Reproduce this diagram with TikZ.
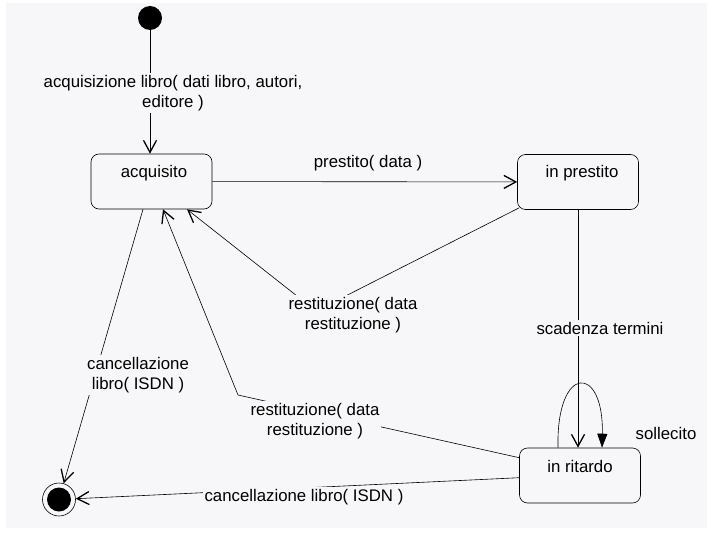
\documentclass[tikz,border=0pt]{standalone}
\usepackage{fontspec}
\setmainfont{Liberation Sans}
\usetikzlibrary{arrows.meta}
\definecolor{bg}{RGB}{247,247,249}
\begin{document}
\begin{tikzpicture}[x=1pt,y=-1pt,
  every node/.style={font=\fontsize{16.8}{20}\selectfont},
  state/.style={draw, rounded corners=8pt, line width=0.6pt, minimum width=121pt, minimum height=55pt, inner sep=0pt},
  txt/.style={inner sep=0pt},
  lbl/.style={fill=bg, inner sep=2pt, align=center},
  edge/.style={line width=0.6pt, -{Straight Barb[length=12pt,width=13pt,line width=1.3pt]}},
  loopedge/.style={line width=0.6pt, -{Triangle[length=14pt,width=10pt]}},
  dot/.style={circle, fill=black, minimum size=24pt, inner sep=0pt}
]
\useasboundingbox (0,0) rectangle (719,540);
\fill[bg] (6,3) rectangle (707,528);

\node[dot] (start) at (150,18) {};
\node[state] (acq) at (151.5,181.5) {};
\node[state] (ip) at (578,182) {};
\node[state] (ir) at (580,475.5) {};
\node[circle, draw, line width=0.6pt, minimum size=33pt, inner sep=0pt] (fin) at (59,499.5) {};
\node[dot] (finIn) at (fin.center) {};

\node[txt] (acqT) at (154,173) {acquisito};
\node[txt] (ipT) at (582,173) {in prestito};
\node[txt] (irT) at (580,466) {in ritardo};

\draw[edge] (start) -- (start.south |- acq.north);
\draw[edge] (acq) -- (ip);
\coordinate (v1) at (316,311);
\draw[edge] ([xshift=2pt,yshift=2pt]ip.south west) -- (v1) -- ([xshift=35.5pt]acq.south);
\coordinate (v2) at (238,395);
\draw[edge] ([yshift=-10pt]ir.north west) -- (v2) -- ([xshift=11.5pt]acq.south);
\draw[edge] ([xshift=-8.5pt]acq.south) -- (fin);
\draw[edge] ([yshift=-30pt]ir.north west) -- (fin);
\draw[edge] (ip.south) -- (ip.south |- ir.north);
\draw[loopedge] ([xshift=-22pt]ir.north) .. controls +(-2,-84) and +(2,-84) .. ([xshift=22pt]ir.north);

\node[lbl] (l1) at (173,93) {acquisizione libro( dati libro, autori,\\editore )};
\node[lbl] (l2) at (368,163) {prestito( data )};
\node[lbl] (l3) at (353,315) {restituzione( data\\restituzione )};
\node[lbl] (l4) at (315,421) {restituzione( data\\restituzione )};
\node[lbl] (l5) at (138,375) {cancellazione\\libro( ISDN )};
\node[lbl] (l6) at (304,497) {cancellazione libro( ISDN )};
\node[lbl] (l7) at (600,328) {scadenza termini};
\node[lbl] (l8) at (666,433) {sollecito};
\end{tikzpicture}
\end{document}
